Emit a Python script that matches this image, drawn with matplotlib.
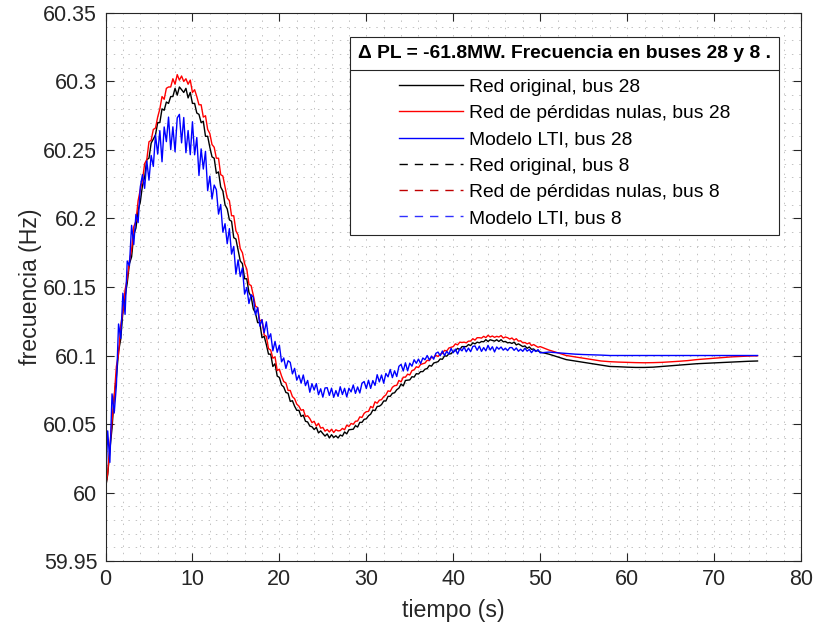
import numpy as np
import matplotlib
matplotlib.use("Agg")
import matplotlib.pyplot as plt
from matplotlib.ticker import MultipleLocator, FuncFormatter
from matplotlib.lines import Line2D

plt.rcParams['font.family'] = ['Liberation Sans', 'DejaVu Sans']

# time axis: 0.25 s sampling during the transient, 1 s afterwards
t = np.concatenate([np.arange(0, 50.001, 0.25), np.arange(51, 75.001, 1.0)])

# Red original, bus 28
f_orig_28 = [
    60.003, 60.013, 60.031, 60.047, 60.070, 60.084, 60.103, 60.112, 60.132, 60.143,
    60.153, 60.167, 60.172, 60.188, 60.193, 60.206, 60.212, 60.224, 60.230, 60.243,
    60.244, 60.255, 60.258, 60.261, 60.270, 60.270, 60.280, 60.279, 60.285, 60.284,
    60.289, 60.289, 60.295, 60.290, 60.296, 60.294, 60.292, 60.295, 60.288, 60.292,
    60.284, 60.284, 60.277, 60.276, 60.270, 60.271, 60.260, 60.260, 60.252, 60.245,
    60.244, 60.233, 60.234, 60.223, 60.220, 60.210, 60.207, 60.199, 60.198, 60.186,
    60.185, 60.177, 60.169, 60.167, 60.156, 60.156, 60.146, 60.143, 60.134, 60.131,
    60.124, 60.124, 60.113, 60.114, 60.108, 60.101, 60.101, 60.092, 60.094, 60.085,
    60.084, 60.0785, 60.077, 60.073, 60.0725, 60.0665, 60.067, 60.063, 60.060, 60.060,
    60.0555, 60.0565, 60.052, 60.0515, 60.0485, 60.048, 60.046, 60.0475, 60.0435, 60.045,
    60.043, 60.0412, 60.0428, 60.0398, 60.0422, 60.0402, 60.0414, 60.0398, 60.042, 60.0412,
    60.0442, 60.0428, 60.0458, 60.046, 60.0462, 60.0488, 60.0478, 60.0512, 60.0512, 60.0534,
    60.0538, 60.056, 60.0572, 60.0602, 60.0598, 60.0628, 60.063, 60.0642, 60.0668, 60.0668,
    60.0702, 60.0702, 60.0724, 60.0728, 60.075, 60.0762, 60.0792, 60.0778, 60.0818, 60.082,
    60.0822, 60.0845, 60.08425, 60.08675, 60.0865, 60.08825, 60.08825, 60.090, 60.0905, 60.09275,
    60.09225, 60.0945, 60.095, 60.0955, 60.0975, 60.09725, 60.09975, 60.0995, 60.10125, 60.10125,
    60.103, 60.1035, 60.10525, 60.10425, 60.1065, 60.1065, 60.1065, 60.108, 60.10725, 60.10925,
    60.1085, 60.10975, 60.10925, 60.1102, 60.110, 60.11155, 60.11025, 60.1115, 60.111, 60.1105,
    60.1115, 60.11025, 60.11155, 60.110, 60.11025, 60.10925, 60.1095, 60.1088, 60.10975, 60.10775,
    60.1085, 60.1075, 60.1065, 60.107, 60.10525, 60.10625, 60.1045, 60.10475, 60.10325, 60.1035,
    60.1025,
    60.101, 60.099, 60.097, 60.096, 60.095, 60.094, 60.093, 60.092, 60.0918, 60.0915,
    60.0913, 60.0913, 60.0915, 60.092, 60.0925, 60.093, 60.0935, 60.094, 60.0943, 60.0946,
    60.0949, 60.0952, 60.0955, 60.0958, 60.096,
]

# Red de perdidas nulas, bus 28
f_lossless_28 = [
    60.004, 60.014, 60.034, 60.052, 60.070, 60.092, 60.101, 60.122, 60.132, 60.148,
    60.156, 60.169, 60.177, 60.194, 60.198, 60.213, 60.221, 60.228, 60.240, 60.243,
    60.256, 60.257, 60.265, 60.266, 60.274, 60.280, 60.289, 60.287, 60.295, 60.296,
    60.296, 60.302, 60.298, 60.305, 60.301, 60.304, 60.300, 60.302, 60.298, 60.301,
    60.292, 60.294, 60.289, 60.283, 60.283, 60.274, 60.275, 60.265, 60.262, 60.254,
    60.252, 60.244, 60.244, 60.232, 60.231, 60.223, 60.215, 60.213, 60.202, 60.202,
    60.191, 60.188, 60.178, 60.175, 60.167, 60.163, 60.152, 60.151, 60.144, 60.136,
    60.135, 60.125, 60.126, 60.115, 60.114, 60.105, 60.104, 60.098, 60.099, 60.089,
    60.090, 60.085, 60.081, 60.080, 60.0745, 60.0745, 60.070, 60.0685, 60.0645, 60.063,
    60.060, 60.0605, 60.0555, 60.056, 60.054, 60.051, 60.052, 60.0485, 60.0505, 60.047,
    60.0475, 60.0448, 60.046, 60.0442, 60.0462, 60.0438, 60.0458, 60.045, 60.0452, 60.0468,
    60.0458, 60.0492, 60.0482, 60.0504, 60.0498, 60.052, 60.0522, 60.0552, 60.0548, 60.0578,
    60.059, 60.0592, 60.0628, 60.0618, 60.0662, 60.0652, 60.0674, 60.0678, 60.070, 60.0712,
    60.0742, 60.0738, 60.0768, 60.078, 60.0782, 60.0818, 60.0808, 60.0842, 60.0842, 60.0864,
    60.0858, 60.089, 60.0895, 60.09175, 60.09125, 60.0935, 60.094, 60.0945, 60.0965, 60.09625,
    60.09875, 60.0985, 60.10025, 60.09925, 60.101, 60.1015, 60.10375, 60.10325, 60.1055, 60.106,
    60.1065, 60.1085, 60.10775, 60.10975, 60.1095, 60.10975, 60.10925, 60.1105, 60.1105, 60.11225,
    60.11125, 60.113, 60.113, 60.1127, 60.114, 60.11305, 60.11475, 60.1135, 60.11425, 60.11325,
    60.114, 60.1135, 60.11455, 60.11275, 60.1135, 60.113, 60.112, 60.1128, 60.11125, 60.11225,
    60.1105, 60.11075, 60.10925, 60.1095, 60.1085, 60.10925, 60.10725, 60.108, 60.107, 60.106,
    60.1065,
    60.104, 60.102, 60.100, 60.099, 60.098, 60.097, 60.096, 60.0955, 60.0952, 60.095,
    60.0948, 60.0947, 60.0948, 60.095, 60.0954, 60.0958, 60.0963, 60.097, 60.0975, 60.098,
    60.0985, 60.099, 60.0993, 60.0996, 60.0998,
]

# Modelo LTI, bus 28
f_lti_28 = [
    60.000, 60.045, 60.022, 60.072, 60.058, 60.078, 60.123, 60.1125, 60.1455, 60.130,
    60.169, 60.1655, 60.195, 60.181, 60.203, 60.197, 60.223, 60.232, 60.222, 60.242,
    60.228, 60.246, 60.238, 60.261, 60.247, 60.2641, 60.2414, 60.2668, 60.2561, 60.274,
    60.2503, 60.2669, 60.2487, 60.2734, 60.276, 60.2552, 60.2737, 60.248, 60.2642, 60.2466,
    60.2706, 60.2465, 60.2591, 60.2314, 60.2508, 60.2361, 60.249, 60.2203, 60.2309, 60.2142,
    60.2244, 60.221, 60.2032, 60.2102, 60.190, 60.1962, 60.1816, 60.1926, 60.174, 60.1796,
    60.1594, 60.1698, 60.1576, 60.164, 60.1448, 60.14965, 60.13795, 60.1444, 60.1425, 60.1297,
    60.13495, 60.1215, 60.1262, 60.1166, 60.1246, 60.11225, 60.11585, 60.1034, 60.1103, 60.10235,
    60.1075, 60.0954, 60.0982, 60.0906, 60.0962, 60.095, 60.0866, 60.0906, 60.082, 60.0856,
    60.0798, 60.0858, 60.078, 60.0818, 60.0732, 60.0794, 60.0748, 60.0795, 60.0714, 60.0757,
    60.0696, 60.0763, 60.0765, 60.0709, 60.07615, 60.0695, 60.0744, 60.0702, 60.0772, 60.07155,
    60.07605, 60.0698, 60.0761, 60.07345, 60.0785, 60.07235, 60.07705, 60.07265, 60.0798, 60.081,
    60.0759, 60.08195, 60.076, 60.0817, 60.0782, 60.086, 60.08075, 60.08575, 60.0798, 60.0869,
    60.08445, 60.0898, 60.08385, 60.08885, 60.08465, 60.0921, 60.0935, 60.0887, 60.09465, 60.0888,
    60.0944, 60.0922, 60.0969, 60.0943, 60.0974, 60.0941, 60.0982, 60.0969, 60.100, 60.0967,
    60.0996, 60.0973, 60.1016, 60.1025, 60.0998, 60.1033, 60.100, 60.1031, 60.1009, 60.1052,
    60.102, 60.1047, 60.1011, 60.105, 60.1034, 60.1062, 60.1027, 60.1054, 60.1028, 60.1066,
    60.107, 60.1038, 60.1068, 60.103, 60.1058, 60.1034, 60.1074, 60.104, 60.1064, 60.1026,
    60.1062, 60.10464, 60.1062, 60.10392, 60.10536, 60.10358, 60.10576, 60.1058, 60.10378, 60.10548,
    60.1031, 60.10458, 60.10304, 60.10534, 60.1032, 60.10444, 60.10206, 60.10412, 60.10294, 60.1043,
    60.10192,
    60.1025, 60.102, 60.1015, 60.101, 60.1007, 60.1005, 60.1003, 60.100, 60.100, 60.100,
    60.100, 60.100, 60.100, 60.100, 60.100, 60.100, 60.100, 60.100, 60.100, 60.100,
    60.100, 60.100, 60.100, 60.100, 60.100,
]

# bus 8 series appear only in the legend
t_8 = []
f_orig_8 = []
f_lossless_8 = []
f_lti_8 = []

labels = [
    'Red original, bus 28',
    'Red de pérdidas nulas, bus 28',
    'Modelo LTI, bus 28',
    'Red original, bus 8',
    'Red de pérdidas nulas, bus 8',
    'Modelo LTI, bus 8',
]
legend_title = 'Δ PL = -61.8MW. Frecuencia en buses 28 y 8 .'

fig = plt.figure(figsize=(8.16, 6.33), dpi=100)
ax = fig.add_axes([0.1293, 0.1137, 0.8523, 0.8658])

ax.plot(t, f_orig_28, color='black', lw=1.0, label=labels[0])
ax.plot(t, f_lossless_28, color='red', lw=1.0, label=labels[1])
ax.plot(t, f_lti_28, color='blue', lw=1.0, label=labels[2])
dash = (0, (6, 5))
ax.plot(t_8, f_orig_8, color='black', lw=1.0, ls=dash, label=labels[3])
ax.plot(t_8, f_lossless_8, color='#c00000', lw=1.0, ls=dash, label=labels[4])
ax.plot(t_8, f_lti_8, color='#3030ff', lw=1.0, ls=dash, label=labels[5])

ax.set_xlim(0, 80)
ax.set_ylim(59.95, 60.35)
ax.xaxis.set_major_locator(MultipleLocator(10))
ax.yaxis.set_major_locator(MultipleLocator(0.05))
ax.xaxis.set_minor_locator(MultipleLocator(2))
ax.yaxis.set_minor_locator(MultipleLocator(0.01))
ax.yaxis.set_major_formatter(FuncFormatter(lambda v, p: f'{round(v, 2):g}'))
ax.xaxis.set_major_formatter(FuncFormatter(lambda v, p: f'{v:g}'))

gcol = (0.15, 0.15, 0.15)
ax.tick_params(which='major', direction='in', length=6, width=0.8, color=gcol,
               top=True, right=True, labelsize=15.5, labelcolor=gcol, pad=6)
ax.tick_params(which='minor', length=0)
for s in ax.spines.values():
    s.set_color(gcol)
    s.set_linewidth(0.8)

ax.grid(which='both', color=(0.76, 0.76, 0.76), lw=0.7, ls=(0, (1.5, 6)))
ax.set_axisbelow(True)

ax.set_xlabel('tiempo (s)', fontsize=16.7, color=gcol, labelpad=6)
ax.set_ylabel('frecuencia (Hz)', fontsize=16.7, color=gcol, labelpad=1)

fs = 13.9
leg = ax.legend(loc='upper right', bbox_to_anchor=(0.968, 0.956), borderaxespad=0,
                fontsize=fs, title=legend_title,
                title_fontproperties={'weight': 'bold', 'size': fs},
                frameon=True, fancybox=False, framealpha=1, edgecolor=gcol,
                handlelength=3.3, handletextpad=0.31, labelspacing=0.45,
                borderpad=0.4)
leg.get_frame().set_linewidth(0.8)
leg._legend_box.sep = 12.0  # extra room between the title and the entries

# separator under the legend title
fig.canvas.draw()
r = fig.canvas.get_renderer()
fb = leg.get_frame().get_window_extent(r)
tb = leg.get_title().get_window_extent(r)
first = leg.get_texts()[0].get_window_extent(r)
ysep = 0.5 * (tb.y0 + first.y1)
inv = fig.transFigure.inverted()
(x0, y0), (x1, _) = inv.transform([(fb.x0, ysep), (fb.x1, ysep)])
fig.add_artist(Line2D([x0, x1], [y0, y0], color=gcol, lw=0.8))

fig.savefig('out.png', dpi=100)
